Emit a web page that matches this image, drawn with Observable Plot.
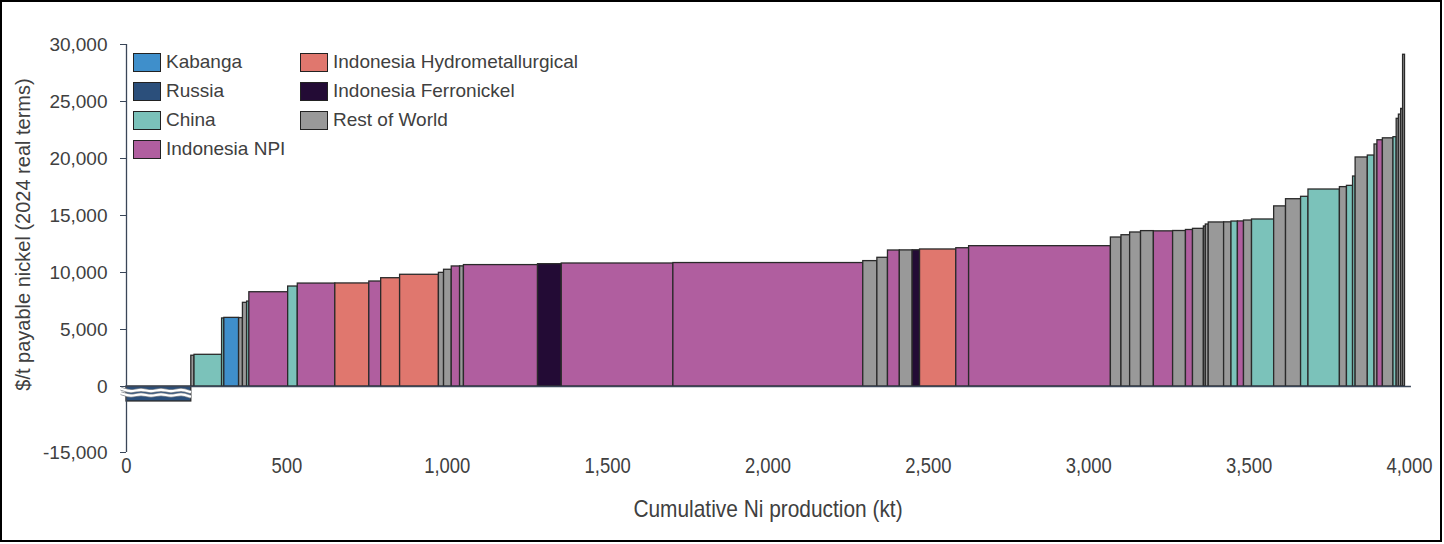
<!DOCTYPE html>
<html>
<head>
<meta charset="utf-8">
<script src="https://cdn.jsdelivr.net/npm/d3@7"></script>
<script src="https://cdn.jsdelivr.net/npm/@observablehq/plot@0.6"></script>
<style>
  html, body { margin: 0; padding: 0; background: #fff; }
  #wrap { position: relative; width: 1444px; height: 544px; overflow: hidden; font-family: "Liberation Sans", Arial, sans-serif; }
  #frame { position: absolute; left: 0; top: 0; right: 2px; bottom: 2px; border: 2px solid #000; pointer-events: none; }
  #legend { position: absolute; left: 133px; top: 52px; display: grid; grid-template-columns: 167px 260px; row-gap: 9px; font-size: 19px; color: #404040; }
  .item { display: flex; align-items: center; height: 20px; white-space: nowrap; }
  .sw { width: 26px; height: 17px; border: 1.5px solid #222; margin-right: 5px; flex: none; }
</style>
</head>
<body>
<div id="wrap"><div id="chart"></div><div id="legend"></div><div id="frame"></div></div>
<script>
// ---- data ----
const categories = ["Kabanga", "Russia", "China", "Indonesia NPI", "Indonesia Hydrometallurgical", "Indonesia Ferronickel", "Rest of World"];
const colors = ["#3F8FCB", "#2B4F7B", "#7BC2BA", "#B05E9F", "#E0776E", "#230B35", "#999999"];
const legendOrder = ["Kabanga", "Indonesia Hydrometallurgical", "Russia", "Indonesia Ferronickel", "China", "Rest of World", "Indonesia NPI"];

const segment = [
  "Russia", "Rest of World", "China", "China", "Kabanga", "Rest of World", "Rest of World", "China",
  "Indonesia NPI", "China", "Indonesia NPI", "Indonesia Hydrometallurgical", "Indonesia NPI",
  "Indonesia Hydrometallurgical", "Indonesia Hydrometallurgical", "Rest of World", "Rest of World",
  "Indonesia NPI", "Rest of World", "Indonesia NPI", "Indonesia Ferronickel", "Indonesia NPI", "Indonesia NPI",
  "Rest of World", "Rest of World", "Indonesia NPI", "Rest of World", "Indonesia Ferronickel",
  "Indonesia Hydrometallurgical", "Indonesia NPI", "Indonesia NPI",
  "Rest of World", "Rest of World", "Rest of World", "Rest of World", "Indonesia NPI", "Rest of World",
  "Indonesia NPI", "Rest of World", "Rest of World", "Rest of World", "Rest of World", "Rest of World",
  "China", "Indonesia NPI", "Rest of World", "China", "Rest of World", "Rest of World", "China", "China",
  "Rest of World", "China", "China", "Rest of World", "China", "Rest of World", "Indonesia NPI",
  "Rest of World", "China", "Rest of World", "Rest of World", "Rest of World", "Rest of World"
];
const capacity = [ // kt
  202, 10, 86, 7, 46, 12, 13, 7, 121, 30, 117, 106, 37, 59, 121, 16, 24, 26, 12, 231, 74, 348, 592,
  44, 33, 37, 40, 23, 113, 40, 442, 33, 27, 34, 40, 60, 40, 22, 34, 6, 9, 48, 23, 20, 19, 25, 69,
  37, 47, 23, 98, 22, 19, 8, 38, 21, 9, 17, 33, 10, 7, 7, 6, 6
];
const cost = [ // $/t
  -3400, 2700, 2780, 5970, 6020, 6000, 7340, 7450, 8270, 8770, 9030, 9040, 9210, 9500, 9800, 9970,
  10240, 10530, 10540, 10650, 10730, 10790, 10830, 11000, 11290, 11930, 11940, 11950, 12020, 12130,
  12310, 13070, 13270, 13510, 13630, 13610, 13640, 13730, 13830, 14040, 14210, 14390, 14400, 14470,
  14480, 14560, 14650, 15800, 16430, 16640, 17280, 17490, 17600, 18420, 20090, 20260, 21230, 21600,
  21770, 21870, 23480, 23850, 24350, 29100
];
const xTicks = [0, 500, 1000, 1500, 2000, 2500, 3000, 3500, 4000];
const yTicks = [-15000, 0, 5000, 10000, 15000, 20000, 25000, 30000];
const xLabel = "Cumulative Ni production (kt)";
const yLabel = "$/t payable nickel (2024 real terms)";

// ---- broken axis: the negative part (0 .. -15,000) is compressed ----
const yMin = -15000, yMax = 30000;
const negPx = 66, posPx = 342;
const k = (negPx / -yMin) / (posPx / yMax);
const fwd = v => (v < 0 ? v * k : v);
const inv = v => (v < 0 ? v / k : v);

// ---- build table ----
const ends = d3.cumsum(capacity);
const bars = segment.map((s, i) => ({segment: s, x1: ends[i] - capacity[i], x2: ends[i], y: fwd(cost[i]), cost: cost[i]}));
const russia = bars.find(d => d.segment === "Russia");

const fmt = d => Math.round(d).toLocaleString("en-US");

// axis break symbol over the negative (Russia) bar
function breakMark(index, scales) {
  const g = d3.create("svg:g");
  const xa = scales.x(russia.x1) - 5, xb = scales.x(russia.x2) + 8;
  const y0 = scales.y(0);
  const period = 20, amp = 1.8;
  [y0 + 4.5, y0 + 9].forEach(yc => {
    const pts = [];
    for (let x = xa, j = 0; x <= xb + 0.01; x += period / 2, j++) pts.push([x, yc + (j % 2 ? amp : -amp)]);
    const line = d3.line().curve(d3.curveBasis)(pts);
    g.append("path").attr("d", line).attr("fill", "none").attr("stroke", "#8a8f96").attr("stroke-width", 3.6);
    g.append("path").attr("d", line).attr("fill", "none").attr("stroke", "#fff").attr("stroke-width", 2.2);
  });
  return g.node();
}

const plot = Plot.plot({
  width: 1444,
  height: 544,
  marginLeft: 126,
  marginRight: 35,
  marginTop: 44,
  marginBottom: 92,
  style: {fontFamily: "'Liberation Sans', Arial, sans-serif", fontSize: "19px", color: "#404040", background: "transparent"},
  x: {domain: [0, 4000]},
  y: {domain: [fwd(yMin), yMax]},
  color: {domain: categories, range: colors},
  marks: [
    Plot.rect(bars, {x1: "x1", x2: "x2", y1: 0, y2: "y", fill: "segment", stroke: "#2a2a2a", strokeWidth: 1.3}),
    Plot.ruleY([0], {x1: 0, x2: 4006, stroke: "#3a4658", strokeWidth: 1.3}),
    Plot.ruleX([0], {stroke: "#3a4658", strokeWidth: 1.3}),
    Plot.axisY({ticks: yTicks.map(fwd), tickFormat: d => fmt(inv(d)), tickSize: 6, tickPadding: 13, stroke: "#3a4658", label: null, fontSize: 19}),
    Plot.axisX({ticks: xTicks, tickFormat: fmt, tickSize: 0, tickPadding: 5, label: null, fontSize: 22}),
    Plot.text([xLabel], {frameAnchor: "bottom", dy: 64, fontSize: 24, fill: "#404040"}),
    Plot.text([yLabel], {frameAnchor: "left", textAnchor: "middle", rotate: -90, dx: -103, dy: -14, fontSize: 20, fill: "#404040"}),
    breakMark
  ]
});
document.getElementById("chart").appendChild(plot);

// condensed look for the x-axis texts (no narrow font installed)
const ctx = document.createElement("canvas").getContext("2d");
function measure(str, size) {
  ctx.font = `${size}px 'Liberation Sans', Arial, sans-serif`;
  return ctx.measureText(str).width;
}
const tickStrings = new Set(xTicks.map(fmt));
plot.querySelectorAll("text").forEach(t => {
  const s = t.textContent;
  const inX = t.closest('g[aria-label^="x-axis"]');
  let size = null, ratio = 1;
  if (inX && tickStrings.has(s)) { size = 22; ratio = 0.84; }
  else if (s === xLabel) { size = 24; ratio = 0.87; }
  if (size) {
    const L = measure(s, size) * ratio;
    t.setAttribute("textLength", L.toFixed(1));
    t.setAttribute("lengthAdjust", "spacingAndGlyphs");
  }
});

// legend
const legend = document.getElementById("legend");
legendOrder.forEach(name => {
  const it = document.createElement("div");
  it.className = "item";
  const sw = document.createElement("span");
  sw.className = "sw";
  sw.style.background = colors[categories.indexOf(name)];
  it.appendChild(sw);
  it.appendChild(document.createTextNode(name));
  legend.appendChild(it);
});
</script>
</body>
</html>
